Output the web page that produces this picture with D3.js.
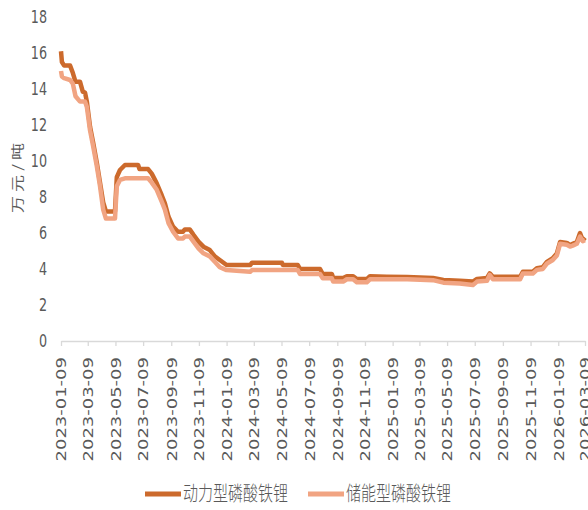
<!DOCTYPE html>
<html lang="zh">
    <head>
        <meta charset="utf-8">
        <title>磷酸铁锂价格</title>
        <script src="https://d3js.org/d3.v7.min.js"></script>
        <style type="text/css">
            body { margin: 0; background: #fff; }
            text { fill: #595959; }
        </style>
    </head>
    <body>
        <script>
            // data (万元/吨)
            var dates = [
                "2023-01-09","2023-01-11","2023-01-16","2023-01-29","2023-02-04","2023-02-10","2023-02-20","2023-02-26",
                "2023-03-03","2023-03-07","2023-03-14","2023-03-21","2023-03-29","2023-04-05","2023-04-12","2023-04-18",
                "2023-05-08","2023-05-12","2023-05-19","2023-05-30","2023-06-28","2023-07-01","2023-07-20","2023-07-28",
                "2023-08-08","2023-08-19","2023-08-26","2023-09-03","2023-09-13","2023-09-24","2023-10-05","2023-10-09",
                "2023-10-20","2023-10-28","2023-11-08","2023-11-19","2023-12-03","2023-12-14","2023-12-25","2024-01-09",
                "2024-03-01","2024-03-05","2024-05-10","2024-05-12","2024-06-14","2024-06-19","2024-08-02","2024-08-08",
                "2024-08-28","2024-08-31","2024-09-22","2024-09-30","2024-10-14","2024-10-22","2024-11-13","2024-11-20",
                "2024-12-27","2025-02-10","2025-04-08","2025-05-01","2025-06-06","2025-07-05","2025-07-14","2025-08-05",
                "2025-08-11","2025-08-18","2025-10-17","2025-10-23","2025-11-14","2025-11-23","2025-12-06","2025-12-15",
                "2025-12-28","2026-01-06","2026-01-13","2026-01-28","2026-02-04","2026-02-10","2026-02-19","2026-02-26",
                "2026-03-04","2026-03-09"
            ];
            var powerLFP = [
                16.1,15.5,15.3,15.3,14.9,14.4,14.4,13.85,
                13.8,13.3,11.9,11.0,9.9,8.8,7.7,7.2,
                7.2,9.1,9.5,9.78,9.78,9.55,9.55,9.3,
                8.76,8.1,7.65,6.9,6.35,6.07,6.07,6.2,
                6.2,5.9,5.52,5.24,5.05,4.7,4.5,4.22,
                4.22,4.35,4.35,4.22,4.22,4.0,4.0,3.72,
                3.72,3.5,3.5,3.6,3.6,3.44,3.44,3.6,
                3.57,3.55,3.5,3.39,3.35,3.3,3.45,3.5,
                3.76,3.57,3.57,3.85,3.85,4.05,4.1,4.4,
                4.6,4.87,5.5,5.45,5.33,5.4,5.5,6.0,
                5.6,5.75
            ];
            var storageLFP = [
                15.0,14.7,14.6,14.5,14.3,13.6,13.3,13.3,
                13.3,13.0,11.7,10.8,9.7,8.6,7.3,6.8,
                6.8,8.6,8.95,9.04,9.04,9.04,9.04,8.8,
                8.4,7.74,7.3,6.54,6.07,5.7,5.7,5.8,
                5.8,5.52,5.15,4.87,4.7,4.4,4.1,3.94,
                3.85,3.94,3.94,3.94,3.94,3.72,3.72,3.48,
                3.48,3.3,3.3,3.43,3.43,3.26,3.26,3.43,
                3.43,3.43,3.38,3.24,3.2,3.11,3.3,3.35,
                3.67,3.43,3.43,3.75,3.75,3.95,4.0,4.3,
                4.5,4.75,5.4,5.35,5.25,5.3,5.4,5.8,
                5.55,5.6
            ];
            var tickDates = [
                "2023-01-09","2023-03-09","2023-05-09","2023-07-09","2023-09-09","2023-11-09",
                "2024-01-09","2024-03-09","2024-05-09","2024-07-09","2024-09-09","2024-11-09",
                "2025-01-09","2025-03-09","2025-05-09","2025-07-09","2025-09-09","2025-11-09",
                "2026-01-09","2026-03-09"
            ];
            var yTicks = [0, 2, 4, 6, 8, 10, 12, 14, 16, 18];
            var seriesNames = ["动力型磷酸铁锂", "储能型磷酸铁锂"];
            var seriesColors = ["#cc6a2c", "#f1a482"];

            // layout
            var width = 588, height = 510;
            var plot = { left: 61, right: 585, top: 17, bottom: 341 };
            var squeeze = 0.75; // the source text is narrow, tall

            var parse = d3.timeParse("%Y-%m-%d");

            var svg = d3.select("body").append("svg")
                .attr("width", width)
                .attr("height", height);

            var xScale = d3.scaleTime()
                .domain([parse(tickDates[0]), parse(tickDates[tickDates.length - 1])])
                .range([plot.left, plot.right]);
            var yScale = d3.scaleLinear()
                .domain([0, 18])
                .range([plot.bottom, plot.top]);

            // x axis
            var xAxis = d3.axisBottom(xScale)
                .tickValues(tickDates.map(parse))
                .tickSize(5)
                .tickSizeOuter(0)
                .tickFormat("");
            var gx = svg.append("g")
                .attr("transform", "translate(0," + plot.bottom + ")")
                .call(xAxis);
            gx.select(".domain").attr("stroke", "#d9d9d9").attr("stroke-width", 1.3);
            gx.selectAll(".tick line").attr("stroke", "#d9d9d9").attr("stroke-width", 1.3);

            svg.append("g").selectAll("g")
                .data(tickDates)
                .enter().append("g")
                .attr("transform", function(d) { return "translate(" + (xScale(parse(d)) + 0.5) + "," + (plot.bottom + 16) + ") scale(" + squeeze + ",1)"; })
                .append("text")
                .attr("transform", "rotate(-90)")
                .attr("text-anchor", "end")
                .attr("dy", "0.36em")
                .style("font-family", "DejaVu Sans, sans-serif")
                .style("font-size", "18px")
                .text(function(d) { return d; });

            // y tick labels (no axis line)
            svg.append("g").selectAll("text")
                .data(yTicks)
                .enter().append("text")
                .attr("transform", function(d) { return "translate(47," + yScale(d) + ") scale(" + squeeze + ",1)"; })
                .attr("text-anchor", "end")
                .attr("dy", "0.36em")
                .style("font-family", "DejaVu Sans, sans-serif")
                .style("font-size", "17px")
                .text(function(d) { return d; });

            svg.append("g")
                .attr("transform", "translate(17,178) scale(" + squeeze + ",1)")
                .append("text")
                .attr("transform", "rotate(-90)")
                .attr("text-anchor", "middle")
                .attr("dy", "0.36em")
                .attr("textLength", 70)
                .attr("lengthAdjust", "spacing")
                .style("font-family", "Noto Sans CJK SC, sans-serif")
                .style("font-size", "17px")
                .text("万元/吨");

            // lines
            var line = d3.line()
                .x(function(d) { return xScale(d.date); })
                .y(function(d) { return yScale(d.value); });

            [powerLFP, storageLFP].forEach(function(values, i) {
                var pts = dates.map(function(d, j) { return { date: parse(d), value: values[j] }; });
                svg.append("path")
                    .datum(pts)
                    .attr("fill", "none")
                    .attr("stroke", seriesColors[i])
                    .attr("stroke-width", 4.5)
                    .attr("stroke-linejoin", "round")
                    .attr("d", line);
            });

            // legend
            var legendX = [145, 308];
            var legend = svg.selectAll(".legend")
                .data(seriesNames)
                .enter().append("g")
                .attr("class", "legend")
                .attr("transform", function(d, i) { return "translate(" + legendX[i] + ",494)"; });

            legend.append("line")
                .attr("x1", 0).attr("x2", 36)
                .attr("stroke", function(d, i) { return seriesColors[i]; })
                .attr("stroke-width", 5);

            legend.append("g")
                .attr("transform", "translate(38,0) scale(" + squeeze + ",1)")
                .append("text")
                .attr("dy", "0.36em")
                .style("font-family", "Noto Sans CJK SC, sans-serif")
                .style("font-size", "20px")
                .style("font-weight", 300)
                .text(function(d) { return d; });
        </script>
    </body>
</html>
